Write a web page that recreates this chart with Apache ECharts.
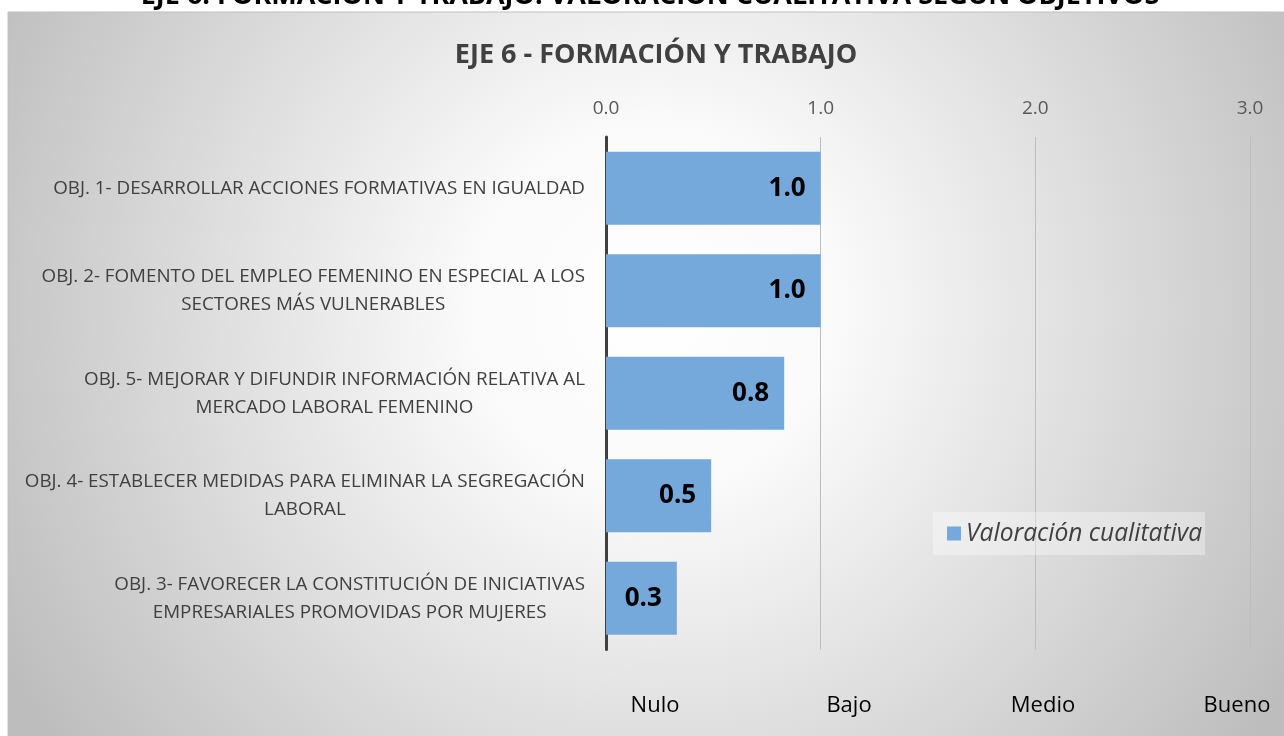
<!DOCTYPE html>
<html><head><meta charset="utf-8">
<script src="https://cdn.jsdelivr.net/npm/echarts@6/dist/echarts.min.js"></script>
<style>html,body{margin:0;padding:0;background:#fff}#c{width:1284px;height:736px}</style>
</head><body><div id="c"></div>
<script>
const pageTitle = 'EJE 6. FORMACIÓN Y TRABAJO: VALORACIÓN CUALITATIVA SEGÚN OBJETIVOS';
const chartTitle = 'EJE 6 - FORMACIÓN Y TRABAJO';
const categories = [
  'OBJ. 1- DESARROLLAR ACCIONES FORMATIVAS EN IGUALDAD',
  'OBJ. 2- FOMENTO DEL EMPLEO FEMENINO EN ESPECIAL A LOS\nSECTORES MÁS VULNERABLES',
  'OBJ. 5- MEJORAR Y DIFUNDIR INFORMACIÓN RELATIVA AL\nMERCADO LABORAL FEMENINO',
  'OBJ. 4- ESTABLECER MEDIDAS PARA ELIMINAR LA SEGREGACIÓN\nLABORAL',
  'OBJ. 3- FAVORECER LA CONSTITUCIÓN DE INICIATIVAS\nEMPRESARIALES PROMOVIDAS POR MUJERES'
];
const values = [1.0, 1.0, 0.83, 0.49, 0.33];
const seriesName = 'Valoración cualitativa';
const scaleTicks = [0, 1, 2, 3];
const levelLabels = ['Nulo', 'Bajo', 'Medio', 'Bueno'];

const FONT = '"Open Sans", "Noto Sans", sans-serif';
const chart = echarts.init(document.getElementById('c'), null, {renderer: 'canvas'});

const option = {
  animation: false,
  backgroundColor: '#ffffff',
  textStyle: {fontFamily: FONT},
  graphic: [
    {type: 'text', z: -20, style: {x: 650, y: -4, text: pageTitle, font: 'bold 27px ' + FONT, fill: '#000', align: 'center', verticalAlign: 'middle'}},
    {type: 'rect', z: -10, shape: {x: 8, y: 12, width: 1290, height: 740},
     style: {fill: new echarts.graphic.RadialGradient(0.5, 0.4, 1, [
       {offset: 0, color: '#ffffff'}, {offset: 0.25, color: '#fafafa'}, {offset: 1, color: '#bdbdbd'}
     ]), stroke: '#bfbfbf', lineWidth: 1}}
  ],
  title: {
    text: chartTitle, left: 651, top: 37, textAlign: 'center',
    textStyle: {fontFamily: FONT, fontSize: 27, fontWeight: 'bold', color: '#404040'}
  },
  legend: {
    data: [seriesName], left: 933, top: 512, orient: 'horizontal',
    backgroundColor: 'rgba(255,255,255,0.35)', padding: [9, 3, 9, 14],
    itemWidth: 14, itemHeight: 14, icon: 'rect',
    textStyle: {fontFamily: FONT, fontSize: 24.6, fontStyle: 'italic', color: '#404040'}
  },
  grid: [
    {left: 606, right: 34, top: 137, bottom: 86.5, containLabel: false},
    {left: 655, right: 47, top: 137, bottom: 86.5, containLabel: false}
  ],
  xAxis: [
    {type: 'value', gridIndex: 0, position: 'top', min: scaleTicks[0], max: scaleTicks[scaleTicks.length - 1], interval: 1,
     axisLine: {show: false}, axisTick: {show: false},
     splitLine: {show: true, lineStyle: {color: '#bdbdbd', width: 1}},
     axisLabel: {margin: 19, fontFamily: FONT, fontSize: 19, color: '#595959', formatter: v => v.toFixed(1)}},
    {type: 'value', gridIndex: 1, position: 'bottom', min: 0, max: levelLabels.length - 1, interval: 1,
     axisLine: {show: false}, axisTick: {show: false}, splitLine: {show: false},
     axisLabel: {margin: 45, fontFamily: FONT, fontSize: 22, color: '#000', formatter: v => levelLabels[Math.round(v)]}}
  ],
  yAxis: [
    {type: 'category', gridIndex: 0, data: categories, inverse: true,
     axisLine: {show: true, lineStyle: {color: '#404040', width: 3}},
     axisTick: {show: false},
     axisLabel: {margin: 21, align: 'right', fontFamily: FONT, fontSize: 18.8, color: '#404040',
       formatter: v => v.split('\n').map(l => '{c|' + l + '}').join('\n'),
       rich: {c: {align: 'center', fontFamily: FONT, fontSize: 18.8, color: '#404040', lineHeight: 28}}}},
    {type: 'value', gridIndex: 1, show: false}
  ],
  series: [{
    name: seriesName, type: 'bar', xAxisIndex: 0, yAxisIndex: 0,
    data: values, barCategoryGap: '29%',
    itemStyle: {color: '#75a9db'},
    label: {show: true, position: 'insideRight', distance: 15, fontFamily: FONT, fontSize: 26, fontWeight: 'bold', color: '#000',
      formatter: p => p.value.toFixed(1)}
  }]
};
chart.setOption(option);
</script></body></html>
